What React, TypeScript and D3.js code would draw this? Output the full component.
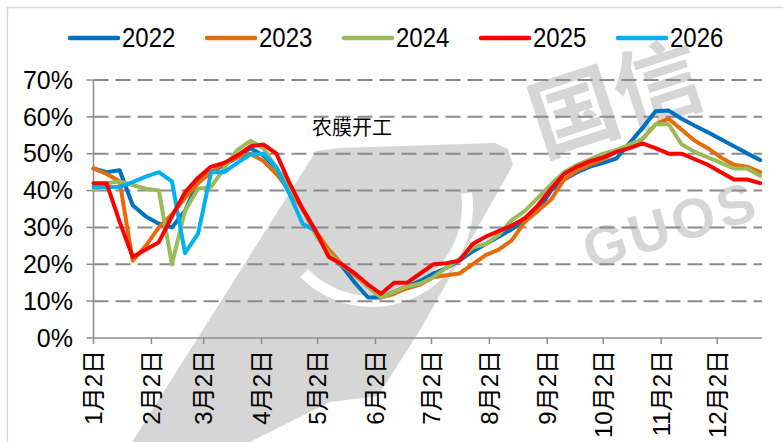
import React from 'react';
import * as d3 from 'd3';

const weekDates = [
  '01-02','01-09','01-16','01-23','01-30','02-06','02-13','02-20','02-27',
  '03-06','03-13','03-20','03-27','04-03','04-10','04-17','04-24',
  '05-01','05-08','05-15','05-22','05-29','06-05','06-12','06-19','06-26',
  '07-03','07-10','07-17','07-24','07-31','08-07','08-14','08-21','08-28',
  '09-04','09-11','09-18','09-25','10-02','10-09','10-16','10-23','10-30',
  '11-06','11-13','11-20','11-27','12-04','12-11','12-18','12-25'
];

const seriesNames = ['2022', '2023', '2024', '2025', '2026'];
const seriesColors = ['#0070C0', '#E46C0A', '#9BBB59', '#FF0000', '#00B0F0'];

const v2022 = [46,45,45.5,36,33,31,30,34.5,42.5,45,47,49,51.5,49.5,46,41,35,29,23,19.5,15,11,11,12.5,14,15.5,17.5,19,21,23.5,25.5,27.5,29.5,32,34.5,40,43,45,46.5,47.5,48.7,52.8,57,61.5,61.7,59.5,57.6,55.8,53.9,52,50.1,48.3];
const v2023 = [46,44.5,42.5,21,25,30,33.5,38,42,45,47.5,49,50,48,44.5,40,35,29,24,20,17,14,11,12,13.5,14.5,16.5,17,17.5,20,22.5,24,26.5,31.5,34.5,37.5,43,45.5,47,48.5,50.5,52,54,58,59.5,56.5,53.5,51.5,49,47,46.5,45];
const v2024 = [40,42,42.5,41.5,40.5,40,20,34.5,40.5,41,46,51,53.5,51.5,46,41,35,28,23,19.7,17.5,14,11,12.5,14,14.8,16.5,19,21.5,24.5,25.5,28,32,34.5,38,41.7,45,47,48.5,50,51,52.5,54,58,58,52.5,50.5,49,47.5,46,46,44];
const v2025 = [42,42,31.5,22,24,26,33,39.5,43.5,46.5,47.5,49.5,52,52.5,50,42,35,29,22,20,17.5,14.5,12,15,15,17.5,20,20.3,21,25.5,27.5,29,30.5,32.5,36,40.5,44.5,46.5,48,49,50.5,51.5,52.8,51.5,50,50,48.5,47,45,43,43,42];
const v2026 = [41,41,41,42.3,43.8,45,42.5,23,28.3,45,45,47.5,49.8,50,46.3,39,31,29];

const seriesValues = [v2022, v2023, v2024, v2025, v2026];
const drawOrder = [0, 1, 2, 4, 3];

const yTicks = [0, 10, 20, 30, 40, 50, 60, 70];
const monthTickDates = ['01-02','02-02','03-02','04-02','05-02','06-02','07-02','08-02','09-02','10-02','11-02','12-02'];
const monthTickLabels = ['1月2日','2月2日','3月2日','4月2日','5月2日','6月2日','7月2日','8月2日','9月2日','10月2日','11月2日','12月2日'];
const axisEndDate = '12-26';
const annotation = '农膜开工';

const FONT = "'Liberation Sans', Arial, 'Noto Sans CJK SC', sans-serif";
const CJK = "'Noto Sans CJK SC', 'Liberation Sans', sans-serif";

export default function App() {
  const parse = d3.timeParse('%Y-%m-%d');
  const toDate = (s: string) => parse('2023-' + s) as Date;

  const left = 93.5, right = 762, top = 80, bottom = 338;
  const x = d3.scaleTime().domain([toDate('01-02'), toDate(axisEndDate)]).range([left, right]);
  const y = d3.scaleLinear().domain([0, 70]).range([bottom, top]);

  const line = d3.line<[Date, number]>().x(d => x(d[0])).y(d => y(d[1]));

  const gridColor = '#8a8a8a';
  const axisColor = '#8c8c8c';

  const ring = d3.arc()({ innerRadius: 90, outerRadius: 101, startAngle: -2.35, endAngle: -4.85 } as any) as string;

  return (
    <svg width={783} height={442} style={{ position: 'fixed', left: 0, top: 0, background: '#fff' }}
      fontFamily={FONT}>
      <rect x={0} y={0} width={783} height={442} fill="#fff" />
      {/* watermark */}
      <g fill="#d6d6d6">
        <path d="M132,442 L250,442 L330,402 L378,396 L420,330 L513,165 L508,149 L495,143 L340,148 L316,151 Z" />
        <path d={ring} transform="translate(372,206)" fill="#fff" />
        <text x={542} y={156} fontSize={88} fontFamily={CJK} fontWeight={700}
          transform="rotate(-18,542,156)">国信</text>
        <text x={590} y={270} fontSize={56} fontFamily={FONT} fontWeight={700} letterSpacing={4}
          transform="rotate(-17,590,270)">GUOS</text>
      </g>
      <rect x={7.5} y={7.5} width={800} height={460} fill="none" stroke="#d9d9d9" strokeWidth={1.5} />

      {/* gridlines */}
      {yTicks.filter(t => t > 0).map(t => (
        <line key={t} x1={left} x2={right} y1={y(t)} y2={y(t)} stroke={gridColor}
          strokeWidth={2} strokeDasharray="15,7" />
      ))}

      {/* y axis */}
      <line x1={left} x2={left} y1={top} y2={bottom} stroke={axisColor} strokeWidth={1.5} />
      {yTicks.map(t => (
        <g key={t}>
          <line x1={left - 7} x2={left} y1={y(t)} y2={y(t)} stroke={axisColor} strokeWidth={1.5} />
          <text x={73} y={y(t)} dy="0.35em" textAnchor="end" fontSize={25} fill="#000">{t}%</text>
        </g>
      ))}

      {/* x axis */}
      <line x1={left} x2={right} y1={bottom} y2={bottom} stroke={axisColor} strokeWidth={1.5} />
      {monthTickDates.map((d, i) => {
        const px = x(toDate(d));
        return (
          <g key={d}>
            <line x1={px} x2={px} y1={bottom} y2={bottom + 6} stroke={axisColor} strokeWidth={1.5} />
            <text transform={`translate(${px},${350}) rotate(-90)`} dy="0.36em" textAnchor="end"
              fontSize={24} fill="#000">{monthTickLabels[i]}</text>
          </g>
        );
      })}

      {/* series */}
      {drawOrder.map(si => {
        const pts: [Date, number][] = seriesValues[si].map((v, i) => [toDate(weekDates[i]), v]);
        return (
          <path key={si} d={line(pts) as string} fill="none" stroke={seriesColors[si]} strokeWidth={4}
            strokeLinejoin="round" strokeLinecap="round" />
        );
      })}

      {/* annotation */}
      <text x={312} y={135} fontSize={20} fontFamily={CJK} fill="#000">{annotation}</text>

      {/* legend */}
      {seriesNames.map((n, i) => {
        const lx = 70 + i * 137;
        return (
          <g key={n}>
            <line x1={lx} x2={lx + 48} y1={38} y2={38} stroke={seriesColors[i]} strokeWidth={4.5}
              strokeLinecap="round" />
            <text transform={`translate(${lx + 52},47) scale(1,1.16)`} fontSize={24} fill="#000">{n}</text>
          </g>
        );
      })}
    </svg>
  );
}
